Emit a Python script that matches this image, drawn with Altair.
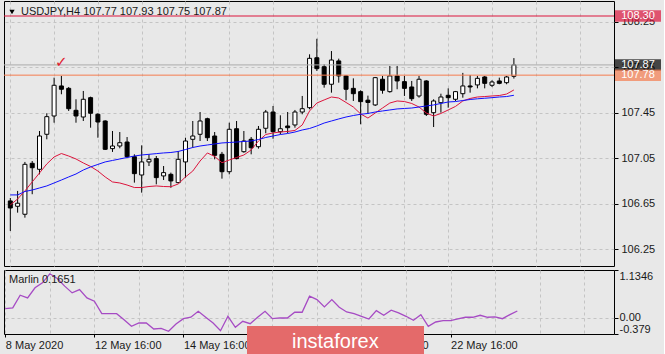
import altair as alt
import pandas as pd

# ---------------- data ----------------
idx = list(range(70))
opens = [106.674, 106.627, 106.557, 107.005, 106.952, 107.260, 107.421, 107.685, 107.664, 107.471,
         107.412, 107.582, 107.436, 107.377, 107.134, 107.157, 107.192, 107.063, 106.902, 107.017,
         107.046, 106.894, 106.908, 106.835, 107.017, 107.216, 107.260, 107.397, 107.245, 107.084,
         106.931, 107.309, 107.107, 107.216, 107.151, 107.313, 107.456, 107.283, 107.333, 107.342,
         107.456, 107.494, 107.933, 107.854, 107.700, 107.905, 107.773, 107.664, 107.635, 107.560,
         107.518, 107.744, 107.635, 107.773, 107.723, 107.676, 107.597, 107.729, 107.450, 107.538,
         107.603, 107.568, 107.617, 107.685, 107.694, 107.764, 107.691, 107.729, 107.714, 107.770]
highs = [106.700, 106.762, 107.017, 107.025, 107.289, 107.445, 107.758, 107.773, 107.676, 107.568,
         107.641, 107.591, 107.445, 107.383, 107.289, 107.280, 107.236, 107.084, 107.163, 107.084,
         107.069, 106.981, 106.923, 107.113, 107.230, 107.377, 107.456, 107.406, 107.280, 107.105,
         107.362, 107.377, 107.289, 107.236, 107.333, 107.474, 107.509, 107.427, 107.456, 107.474,
         107.597, 107.963, 108.100, 107.875, 107.992, 107.925, 107.781, 107.752, 107.647, 107.600,
         107.764, 107.773, 107.861, 107.861, 107.773, 107.729, 107.773, 107.735, 107.568, 107.617,
         107.664, 107.641, 107.800, 107.781, 107.773, 107.773, 107.735, 107.758, 107.773, 107.930]
lows = [106.410, 106.571, 106.527, 106.733, 106.908, 107.216, 107.362, 107.612, 107.465, 107.362,
        107.377, 107.318, 107.230, 107.122, 107.105, 107.137, 107.054, 106.835, 106.747, 106.981,
        106.820, 106.858, 106.790, 106.830, 106.879, 107.142, 107.201, 107.201, 107.040, 106.870,
        106.908, 107.040, 107.098, 107.084, 107.134, 107.269, 107.221, 107.260, 107.269, 107.318,
        107.436, 107.480, 107.817, 107.670, 107.626, 107.714, 107.559, 107.553, 107.348, 107.440,
        107.509, 107.617, 107.626, 107.656, 107.597, 107.553, 107.582, 107.421, 107.324, 107.450,
        107.494, 107.553, 107.582, 107.626, 107.664, 107.664, 107.676, 107.700, 107.700, 107.750]
closes = [106.612, 106.654, 106.996, 106.966, 107.245, 107.415, 107.691, 107.656, 107.485, 107.421,
          107.568, 107.445, 107.368, 107.128, 107.157, 107.186, 107.063, 106.914, 107.017, 107.040,
          106.879, 106.923, 106.850, 107.040, 107.201, 107.245, 107.377, 107.230, 107.075, 106.931,
          107.304, 107.046, 107.201, 107.142, 107.304, 107.456, 107.283, 107.309, 107.318, 107.456,
          107.485, 107.928, 107.837, 107.700, 107.913, 107.773, 107.656, 107.617, 107.547, 107.540,
          107.758, 107.647, 107.773, 107.729, 107.664, 107.573, 107.744, 107.436, 107.553, 107.588,
          107.582, 107.635, 107.685, 107.676, 107.752, 107.708, 107.720, 107.708, 107.764, 107.870]
red_ma = [106.639, 106.691, 106.762, 106.841, 106.920, 106.999, 107.061, 107.091, 107.069, 107.043,
          107.008, 106.977, 106.937, 106.885, 106.841, 106.832, 106.814, 106.792, 106.792, 106.801,
          106.806, 106.801, 106.799, 106.823, 106.885, 106.937, 107.025, 107.096, 107.065, 107.010,
          107.034, 107.056, 107.078, 107.122, 107.201, 107.258, 107.272, 107.280, 107.285, 107.294,
          107.342, 107.465, 107.535, 107.562, 107.588, 107.579, 107.540, 107.500, 107.439, 107.403,
          107.447, 107.491, 107.535, 107.553, 107.548, 107.531, 107.500, 107.447, 107.421, 107.443,
          107.474, 107.505, 107.553, 107.575, 107.588, 107.592, 107.597, 107.601, 107.614, 107.650]
blue_ma = [106.727, 106.727, 106.757, 106.770, 106.788, 106.806, 106.832, 106.858, 106.885, 106.911,
           106.946, 106.973, 106.995, 107.017, 107.030, 107.043, 107.056, 107.069, 107.078, 107.084,
           107.090, 107.096, 107.100, 107.109, 107.126, 107.144, 107.157, 107.166, 107.175, 107.184,
           107.188, 107.192, 107.197, 107.201, 107.214, 107.232, 107.245, 107.258, 107.267, 107.280,
           107.298, 107.311, 107.333, 107.359, 107.377, 107.395, 107.412, 107.425, 107.436, 107.443,
           107.456, 107.465, 107.474, 107.483, 107.487, 107.491, 107.500, 107.509, 107.518, 107.531,
           107.544, 107.548, 107.557, 107.566, 107.572, 107.577, 107.582, 107.588, 107.592, 107.603]
marlin = [0.221, 0.238, 0.539, 0.475, 0.713, 0.831, 1.045, 0.933, 0.753, 0.594,
          0.672, 0.475, 0.397, 0.102, 0.102, 0.102, -0.040, -0.197, -0.119, -0.119,
          -0.261, -0.245, -0.316, -0.143, -0.017, 0.017, 0.159, 0.017, -0.119, -0.302,
          0.040, -0.221, -0.078, -0.135, 0.017, 0.159, -0.017, 0.000, 0.000, 0.135,
          0.135, 0.515, 0.435, 0.261, 0.435, 0.254, 0.143, 0.102, 0.040, -0.024,
          0.173, 0.064, 0.183, 0.119, 0.040, -0.055, 0.078, -0.197, -0.095, -0.064,
          -0.064, -0.024, 0.017, 0.017, 0.064, 0.017, 0.024, -0.017, 0.078, 0.1651]

x_label_idx = [0, 12, 24, 36, 48, 60]
x_labels = ["8 May 2020", "12 May 16:00", "14 May 16:00", "18 May 16:00", "20 May 16:00", "22 May 16:00"]
grid_idx = list(range(0, 79, 6))
price_ticks = [106.25, 106.65, 107.05, 107.45, 107.85, 108.25]
osc_ticks = [-0.379, 0.0, 1.1346]
osc_tick_labels = ["-0.379", "0.00", "1.1346"]
levels = [108.30, 107.87, 107.78]
level_labels = ["108.30", "107.87", "107.78"]
level_line_colors = ["#dc143c", "#ababab", "#f57c4e"]
level_box_colors = ["#dc143c", "#000000", "#f57c4e"]
check_idx = [7]
check_price = [107.90]
title_text = "USDJPY,H4  107.77 107.93 107.75 107.87"
osc_title = "Marlin 0.1651"

# ---------------- build chart ----------------
FONT = "Liberation Sans"
BG = "#e8e8e8"
GRID = "#c4c4c4"
TXT = "#1a1a1a"

df = pd.DataFrame({"i": idx, "o": opens, "h": highs, "l": lows, "c": closes,
                   "red": red_ma, "blue": blue_ma, "m": marlin})
lv = pd.DataFrame({"p": levels, "lab": level_labels, "lc": level_line_colors, "bc": level_box_colors})
ck = pd.DataFrame({"i": check_idx, "p": check_price})
one = pd.DataFrame({"t": [0]})

xscale = alt.Scale(domain=[-0.18, 82.03], nice=False, zero=False)
yscale = alt.Scale(domain=[106.102, 108.432], nice=False, zero=False)
oscale = alt.Scale(domain=[-0.379, 1.1346], nice=False, zero=False)

x_axis_main = alt.Axis(values=grid_idx, grid=True, gridDash=[3, 3], gridColor=GRID,
                       labels=False, ticks=False, domain=False, title=None)
y_axis_main = alt.Axis(orient="right", values=price_ticks, format=".2f", grid=True,
                       gridDash=[3, 3], gridColor=GRID, tickSize=4, tickColor="black",
                       labelPadding=3, domain=False, labelFont=FONT, labelFontSize=11,
                       labelColor=TXT, title=None)

X = alt.X("i:Q", scale=xscale, axis=x_axis_main)


def Y(field):
    return alt.Y(f"{field}:Q", scale=yscale, axis=y_axis_main)


base = alt.Chart(df)
wicks = base.mark_rule(color="black", strokeWidth=1, clip=True).encode(
    x=X, y=Y("l"), y2="h:Q")
bodies = base.mark_bar(size=4, stroke="black", strokeWidth=1, clip=True).encode(
    x=X, y=Y("o"), y2="c:Q",
    fill=alt.condition("datum.c >= datum.o", alt.value("white"), alt.value("black")))
red_line = base.mark_line(color="#dc143c", strokeWidth=1, clip=True).encode(x=X, y=Y("red"))
blue_line = base.mark_line(color="#1010ff", strokeWidth=1, clip=True).encode(x=X, y=Y("blue"))

level_lines = alt.Chart(lv).mark_rule(strokeWidth=1).encode(
    y=Y("p"), color=alt.Color("lc:N", scale=None))
level_boxes = alt.Chart(lv).mark_tick(orient="horizontal", size=46, thickness=11.5).encode(
    y=Y("p"), x=alt.value(634), color=alt.Color("bc:N", scale=None))
level_texts = alt.Chart(lv).mark_text(color="white", font=FONT, fontSize=11,
                                      align="center", baseline="middle").encode(
    y=Y("p"), x=alt.value(634), text="lab:N")
check = alt.Chart(ck).mark_text(text="✓", color="#e0202c", font="DejaVu Sans",
                                fontSize=15, baseline="middle").encode(x=X, y=Y("p"))
title = alt.Chart(one).mark_text(text=title_text, font=FONT, fontSize=11, color=TXT,
                                 align="left", baseline="middle").encode(
    x=alt.value(17), y=alt.value(11))
tri = alt.Chart(one).mark_point(shape="triangle-down", filled=True, color="black",
                                size=28, opacity=1).encode(x=alt.value(8), y=alt.value(11))

main = alt.layer(wicks, bodies, red_line, blue_line, level_lines, check,
                 level_boxes, level_texts, title, tri).properties(width=610, height=265)

# ---- oscillator panel ----
lab_idx_str = "[" + ",".join(str(v) for v in x_label_idx) + "]"
lab_str = "[" + ",".join("'" + s + "'" for s in x_labels) + "]"
x_axis_sub = alt.Axis(
    values=grid_idx, grid=True, gridDash=[3, 3], gridColor=GRID, domain=False, title=None,
    labelExpr=f"indexof({lab_idx_str}, datum.value) >= 0 ? {lab_str}[indexof({lab_idx_str}, datum.value)] : ''",
    labelAlign="left", labelFont=FONT, labelFontSize=11, labelColor=TXT, labelPadding=2,
    labelOverlap=False, labelFlush=False, labelBound=False,
    tickSize=3, tickColor="black",
    tickOpacity={"condition": {"test": f"indexof({lab_idx_str}, datum.value) >= 0", "value": 1}, "value": 0})

o_idx_str = "[" + ",".join(str(v) for v in osc_ticks) + "]"
o_lab_str = "[" + ",".join("'" + s + "'" for s in osc_tick_labels) + "]"
y_axis_sub = alt.Axis(
    orient="right", values=osc_ticks, grid=True, gridDash=[3, 3], gridColor=GRID,
    gridOpacity={"condition": {"test": "datum.value == 0", "value": 1}, "value": 0},
    labelExpr=f"{o_lab_str}[indexof({o_idx_str}, datum.value)]",
    labelBaseline={"condition": [{"test": "datum.value > 1", "value": "top"},
                                 {"test": "datum.value < -0.1", "value": "bottom"}],
                   "value": "middle"},
    tickSize=4, tickColor="black", labelPadding=1, domain=False, labelFont=FONT,
    labelFontSize=11, labelColor=TXT, title=None)

Xs = alt.X("i:Q", scale=xscale, axis=x_axis_sub)
osc_line = alt.Chart(df).mark_line(color="#a64bc4", strokeWidth=1.3).encode(
    x=Xs, y=alt.Y("m:Q", scale=oscale, axis=y_axis_sub))
osc_label = alt.Chart(one).mark_text(text=osc_title, font=FONT, fontSize=11, color=TXT,
                                     align="left", baseline="middle").encode(
    x=alt.value(5), y=alt.value(10))
logo_rect = alt.Chart(one).mark_rect(color="#e46a6a").encode(
    x=alt.value(243), x2=alt.value(420), y=alt.value(56), y2=alt.value(87))
logo_text = alt.Chart(one).mark_text(text="instaforex", font=FONT, fontSize=20,
                                     color="white", align="left", baseline="alphabetic").encode(
    x=alt.value(288), y=alt.value(78))

sub = alt.layer(osc_line, osc_label, logo_rect, logo_text).properties(width=610, height=64)

chart = alt.vconcat(main, sub, spacing=2).configure(
    background=BG, padding={"left": 2, "top": 0, "right": 2, "bottom": 0}
).configure_view(stroke="black", strokeWidth=1, fill=BG)

chart.save("out.html", embed_options={"renderer": "svg", "actions": False})
